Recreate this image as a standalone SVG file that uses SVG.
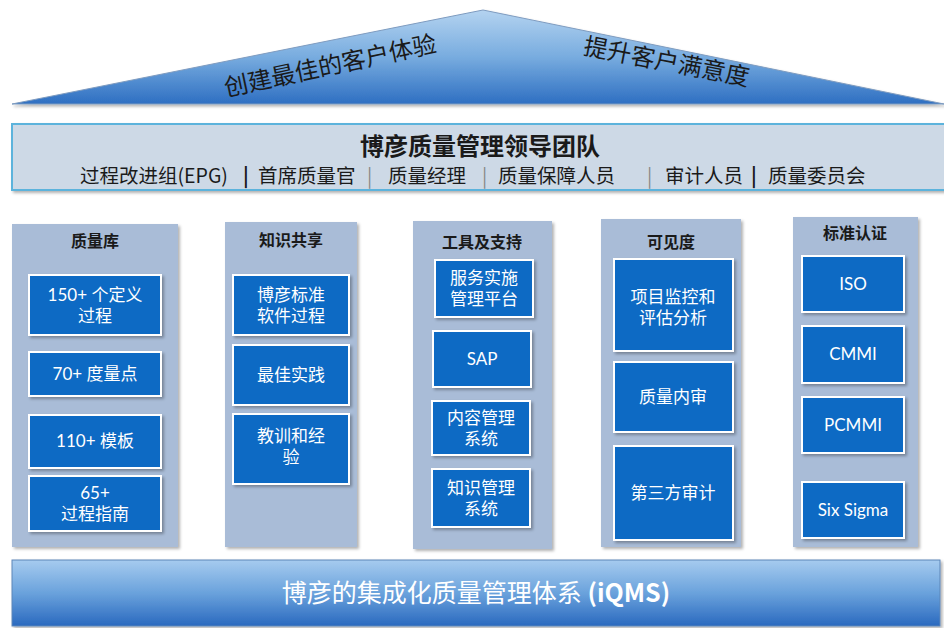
<svg xmlns="http://www.w3.org/2000/svg" width="944" height="628" viewBox="0 0 944 628">
<defs>
<linearGradient id="roofG" x1="0" y1="0" x2="0" y2="1">
<stop offset="0" stop-color="#b4d3f0"/>
<stop offset="0.5" stop-color="#78acdf"/>
<stop offset="1" stop-color="#2e6fc2"/>
</linearGradient>
<linearGradient id="baseG" x1="0" y1="0" x2="0" y2="1">
<stop offset="0" stop-color="#a6cbef"/>
<stop offset="0.5" stop-color="#6aa2dc"/>
<stop offset="1" stop-color="#2a69bf"/>
</linearGradient>
<filter id="sh" x="-10%" y="-10%" width="130%" height="130%">
<feDropShadow dx="2" dy="2" stdDeviation="1.5" flood-color="#000" flood-opacity="0.3"/>
</filter>
</defs>
<style>
text{font-family:"Noto Sans CJK SC","Noto Sans",sans-serif;}
.col{fill:#a9bcd7;filter:url(#sh);}
.ct{font-size:16px;font-weight:bold;fill:#1a1a1a;text-anchor:middle;}
.bx{fill:#0b6bc4;stroke:#ffffff;stroke-width:2;filter:url(#sh);}
.bt{font-family:Lato,"Noto Sans CJK SC",sans-serif;font-size:17px;fill:#ffffff;text-anchor:middle;}
.sub{font-size:19.5px;fill:#1a1a1a;}
</style>
<rect width="944" height="628" fill="#ffffff"/>
<g id="roof">
<polygon points="483,10 944,104 12,104" fill="url(#roofG)" stroke="#7f9cc0" stroke-width="1" filter="url(#sh)"/>
<text x="332" y="74" font-size="24" fill="#1a1a1a" text-anchor="middle" transform="rotate(-12 332 74)">创建最佳的客户体验</text>
<text x="665" y="70" font-size="24" fill="#1a1a1a" text-anchor="middle" transform="rotate(11 665 70)">提升客户满意度</text>
</g>
<g id="leadership">
<rect x="12" y="124" width="934" height="66" fill="#cdd9e6" stroke="#5cb3dc" stroke-width="2" filter="url(#sh)"/>
<text x="480" y="155" font-size="24" font-weight="bold" fill="#1a1a1a" text-anchor="middle">博彦质量管理领导团队</text>
<text class="sub" y="183"><tspan x="80">过程改进组(EPG)</tspan><tspan x="243" font-weight="bold">|</tspan><tspan x="258">首席质量官</tspan><tspan x="367" fill="#888">|</tspan><tspan x="388">质量经理</tspan><tspan x="482" fill="#888">|</tspan><tspan x="498">质量保障人员</tspan><tspan x="647" fill="#888">|</tspan><tspan x="665">审计人员</tspan><tspan x="751" font-weight="bold">|</tspan><tspan x="768">质量委员会</tspan></text>
</g>
<g id="col-quality-lib">
<rect class="col" x="12" y="224" width="166" height="323"/>
<text class="ct" x="95" y="247">质量库</text>
<rect class="bx" x="29" y="275" width="132" height="60"/>
<text class="bt" x="95" y="301">150+ 个定义<tspan x="95" dy="21">过程</tspan></text>
<rect class="bx" x="29" y="352" width="132" height="44"/>
<text class="bt" x="95" y="380">70+ 度量点</text>
<rect class="bx" x="29" y="415" width="132" height="53"/>
<text class="bt" x="95" y="447">110+ 模板</text>
<rect class="bx" x="29" y="476" width="132" height="55"/>
<text class="bt" x="95" y="499">65+<tspan x="95" dy="21">过程指南</tspan></text>
</g>
<g id="col-knowledge">
<rect class="col" x="225" y="222" width="132" height="325"/>
<text class="ct" x="291" y="246">知识共享</text>
<rect class="bx" x="233" y="275" width="116" height="60"/>
<text class="bt" x="291" y="301">博彦标准<tspan x="291" dy="21">软件过程</tspan></text>
<rect class="bx" x="233" y="345" width="116" height="60"/>
<text class="bt" x="291" y="381">最佳实践</text>
<rect class="bx" x="233" y="414" width="116" height="70"/>
<text class="bt" x="291" y="442">教训和经<tspan x="291" dy="21">验</tspan></text>
</g>
<g id="col-tools">
<rect class="col" x="413" y="221" width="139" height="328"/>
<text class="ct" x="482" y="248">工具及支持</text>
<rect class="bx" x="435" y="260" width="98" height="57"/>
<text class="bt" x="484" y="284">服务实施<tspan x="484" dy="21">管理平台</tspan></text>
<rect class="bx" x="433" y="331" width="98" height="56"/>
<text class="bt" x="482" y="365">SAP</text>
<rect class="bx" x="432" y="401" width="98" height="54"/>
<text class="bt" x="481" y="424">内容管理<tspan x="481" dy="21">系统</tspan></text>
<rect class="bx" x="432" y="469" width="98" height="58"/>
<text class="bt" x="481" y="494">知识管理<tspan x="481" dy="21">系统</tspan></text>
</g>
<g id="col-visibility">
<rect class="col" x="601" y="219" width="140" height="328"/>
<text class="ct" x="671" y="248">可见度</text>
<rect class="bx" x="614" y="259" width="119" height="92"/>
<text class="bt" x="673" y="303">项目监控和<tspan x="673" dy="21">评估分析</tspan></text>
<rect class="bx" x="614" y="362" width="119" height="70"/>
<text class="bt" x="673" y="403">质量内审</text>
<rect class="bx" x="614" y="446" width="119" height="94"/>
<text class="bt" x="673" y="499">第三方审计</text>
</g>
<g id="col-standards">
<rect class="col" x="793" y="217" width="125" height="330"/>
<text class="ct" x="855" y="239">标准认证</text>
<rect class="bx" x="802" y="256" width="102" height="56"/>
<text class="bt" x="853" y="290">ISO</text>
<rect class="bx" x="802" y="326" width="102" height="57"/>
<text class="bt" x="853" y="360">CMMI</text>
<rect class="bx" x="802" y="397" width="102" height="56"/>
<text class="bt" x="853" y="431">PCMMI</text>
<rect class="bx" x="802" y="482" width="102" height="56"/>
<text class="bt" x="853" y="516">Six Sigma</text>
</g>
<g id="iqms">
<rect x="12" y="560" width="928" height="66" fill="url(#baseG)" stroke="#5c86b8" stroke-width="1" filter="url(#sh)"/>
<text x="476" y="602" font-size="25" fill="#ffffff" text-anchor="middle">博彦的集成化质量管理体系 <tspan font-weight="bold">(iQMS)</tspan></text>
</g>
<g id="connectors"></g>
</svg>
